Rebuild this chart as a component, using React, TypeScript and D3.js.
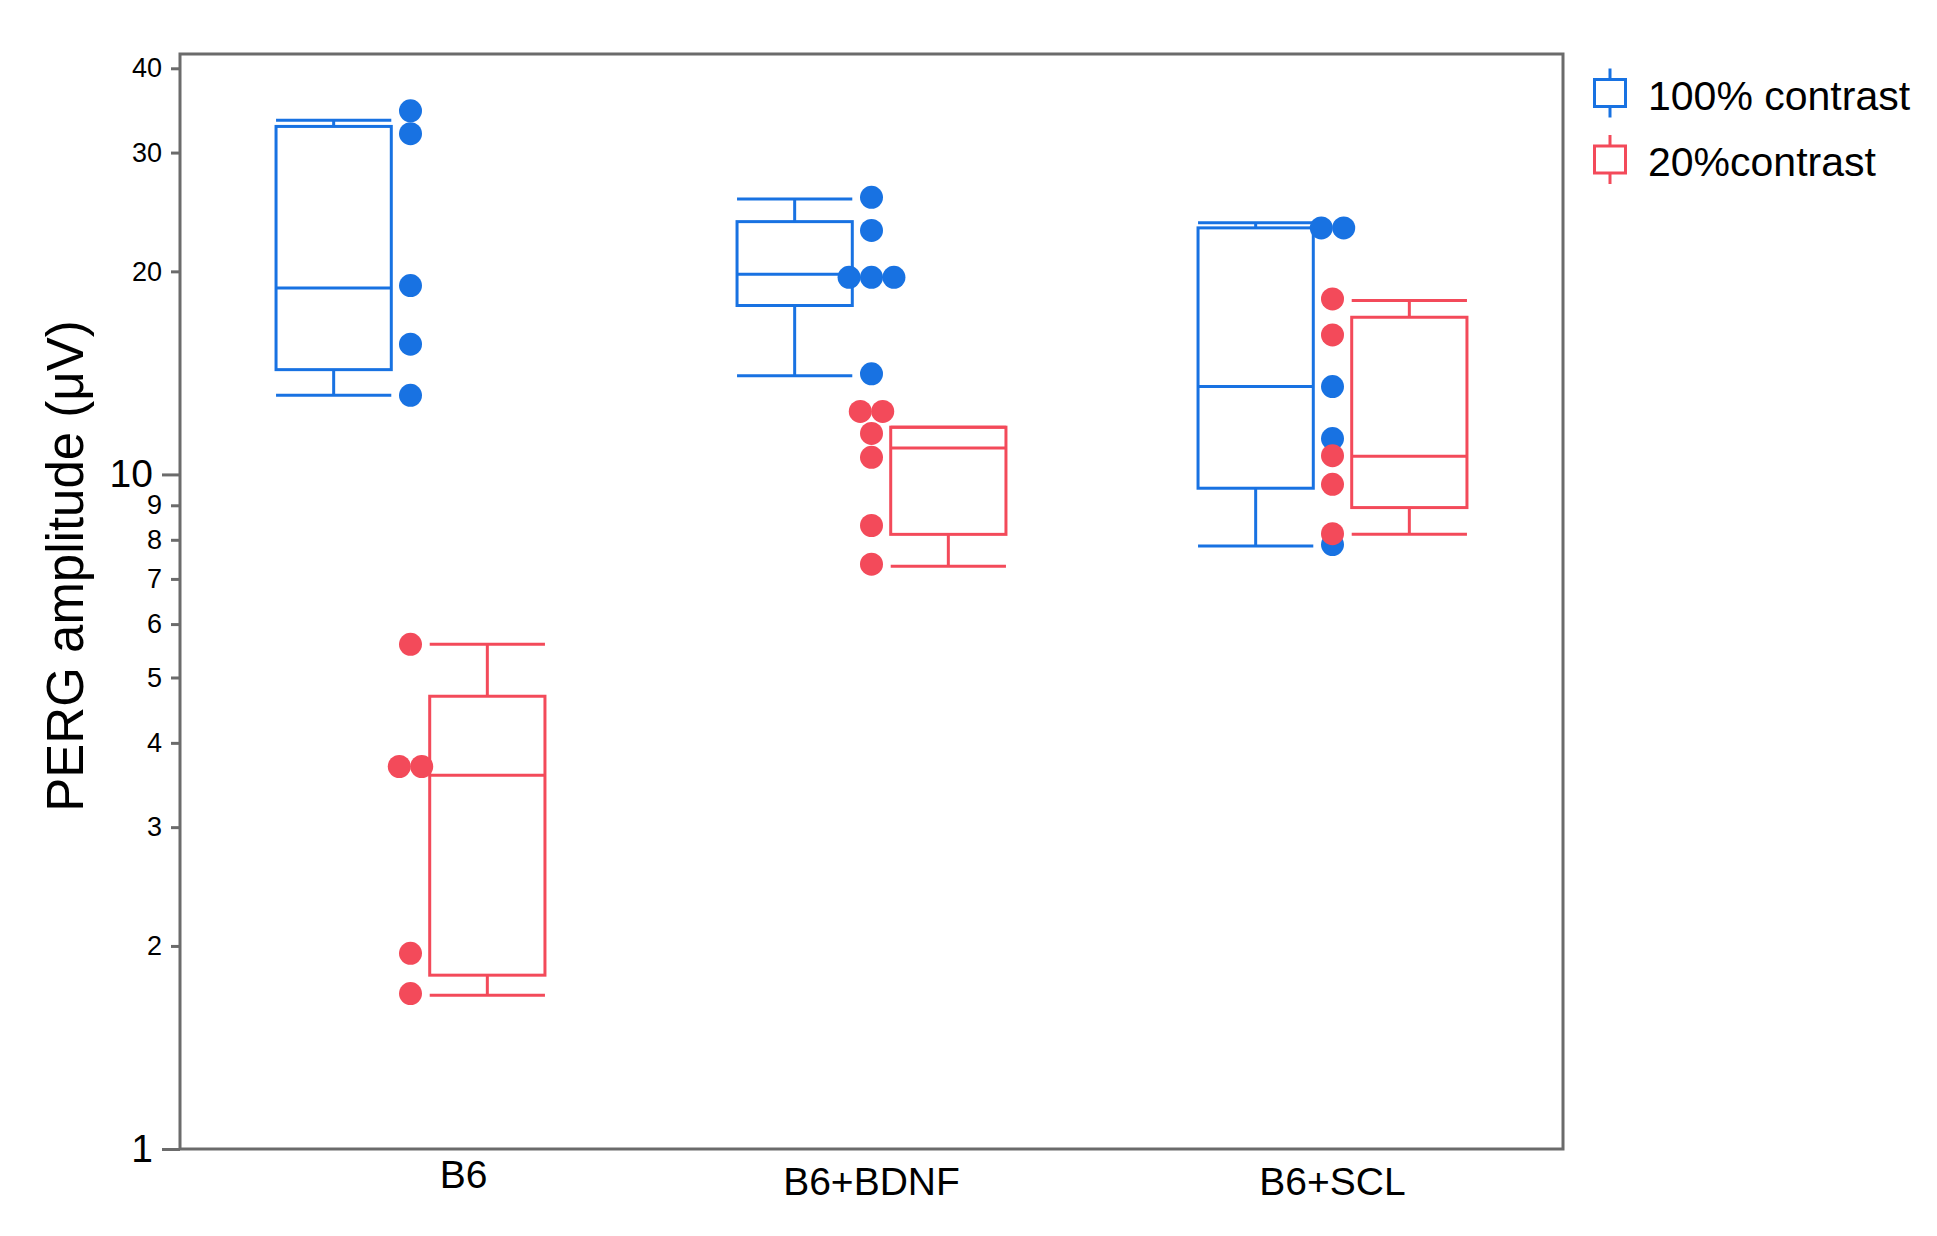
import React, { useRef, useEffect } from 'react';
import * as d3 from 'd3';

const groups = ['B6', 'B6+BDNF', 'B6+SCL'];
const series = ['100% contrast', '20%contrast'];
const colors = ['#1872e2', '#f34a5a'];

// box stats per group: [lower whisker, q1, median, q3, upper whisker]
const box100 = [
  [13.1, 14.3, 18.9, 32.8, 33.5],
  [14.0, 17.8, 19.8, 23.7, 25.6],
  [7.83, 9.54, 13.5, 23.2, 23.6],
];
const box20 = [
  [1.69, 1.81, 3.58, 4.69, 5.6],
  [7.31, 8.15, 10.94, 11.75, 11.75],
  [8.15, 8.93, 10.64, 17.1, 18.1],
];

// individual animals
const pts100 = [
  [34.6, 32.0, 19.05, 15.6, 13.1],
  [25.75, 23.0, 19.6, 19.6, 19.6, 14.1],
  [23.2, 23.2, 13.5, 11.3, 7.87],
];
const pts20 = [
  [5.6, 3.69, 3.69, 1.95, 1.7],
  [12.4, 12.4, 11.5, 10.6, 8.4, 7.36],
  [18.2, 16.1, 10.66, 9.67, 8.17],
];

const yTicks = [1, 2, 3, 4, 5, 6, 7, 8, 9, 10, 20, 30, 40];
const majorTicks = [1, 10];

const W = 1937;
const H = 1236;

const App: React.FC = () => {
  const svgRef = useRef<SVGSVGElement>(null);

  useEffect(() => {
    if (!svgRef.current) return;
    const svg = d3.select(svgRef.current);
    svg.selectAll('*').remove();

    const left = 180, right = 1563, top = 54, bottom = 1149;
    const font = '"Liberation Sans", Arial, Helvetica, sans-serif';
    const axisGrey = '#6b6b6b';

    const x = d3.scaleBand<string>().domain(groups).range([left, right]);
    const x1 = d3.scaleBand<string>().domain(series)
      .range([-x.bandwidth() / 3, x.bandwidth() / 3]);
    const boxW = x1.bandwidth() * 0.75;

    const y = d3.scaleLog().domain([1, 42]).range([bottom, top]);

    // frame
    svg.append('rect')
      .attr('x', left).attr('y', top)
      .attr('width', right - left).attr('height', bottom - top)
      .attr('fill', 'none')
      .attr('stroke', axisGrey)
      .attr('stroke-width', 3);

    // y axis
    const yAxis = d3.axisLeft(y)
      .tickValues(yTicks)
      .tickFormat(d3.format('d'))
      .tickSize(9)
      .tickPadding(9);

    const ag = svg.append('g')
      .attr('transform', `translate(${left},0)`)
      .call(yAxis);
    ag.select('.domain').remove();
    ag.selectAll('.tick line')
      .attr('stroke', axisGrey)
      .attr('stroke-width', 3)
      .attr('x2', (d: any) => (majorTicks.includes(d) ? -18 : -9));
    ag.selectAll('.tick text')
      .attr('x', (d: any) => (majorTicks.includes(d) ? -27 : -18))
      .attr('fill', '#000')
      .style('font-family', font)
      .style('font-size', (d: any) => (majorTicks.includes(d) ? '39px' : '27px'));

    // y title
    svg.append('text')
      .attr('transform', 'translate(83,566) rotate(-90)')
      .attr('text-anchor', 'middle')
      .style('font-family', font)
      .style('font-size', '51px')
      .text('PERG amplitude (μV)');

    // x labels
    const labelNudge: Record<string, [number, number]> = { 'B6': [53, -7] };
    svg.selectAll('.xlab')
      .data(groups)
      .join('text')
      .attr('x', d => x(d)! + x.bandwidth() / 2 + (labelNudge[d]?.[0] ?? 0))
      .attr('y', d => 1195 + (labelNudge[d]?.[1] ?? 0))
      .attr('text-anchor', 'middle')
      .style('font-family', font)
      .style('font-size', '39px')
      .text(d => d);

    // boxes
    const boxes = [box100, box20];
    series.forEach((s, si) => {
      const g = svg.append('g')
        .attr('stroke', colors[si])
        .attr('stroke-width', 3)
        .attr('fill', 'none');
      groups.forEach((grp, gi) => {
        const [lo, q1, med, q3, hi] = boxes[si][gi];
        const cx = x(grp)! + x.bandwidth() / 2 + x1(s)! + x1.bandwidth() / 2;
        const x0 = cx - boxW / 2, xEnd = cx + boxW / 2;
        g.append('line').attr('x1', cx).attr('x2', cx).attr('y1', y(hi)).attr('y2', y(q3));
        g.append('line').attr('x1', cx).attr('x2', cx).attr('y1', y(q1)).attr('y2', y(lo));
        g.append('line').attr('x1', x0).attr('x2', xEnd).attr('y1', y(hi)).attr('y2', y(hi));
        g.append('line').attr('x1', x0).attr('x2', xEnd).attr('y1', y(lo)).attr('y2', y(lo));
        g.append('rect')
          .attr('x', x0).attr('y', y(q3))
          .attr('width', boxW).attr('height', y(q1) - y(q3));
        g.append('line').attr('x1', x0).attr('x2', xEnd).attr('y1', y(med)).attr('y2', y(med));
      });
    });

    // points, identical values placed side by side
    const pts = [pts100, pts20];
    const r = 11.5;
    series.forEach((s, si) => {
      groups.forEach((grp, gi) => {
        const cx = x(grp)! + x.bandwidth() / 2;
        const counts = d3.rollup(pts[si][gi], v => v.length, v => v);
        const seen = new Map<number, number>();
        pts[si][gi].forEach(v => {
          const n = counts.get(v) ?? 1;
          const k = seen.get(v) ?? 0;
          seen.set(v, k + 1);
          svg.append('circle')
            .attr('cx', cx + (k - (n - 1) / 2) * r * 1.95)
            .attr('cy', y(v))
            .attr('r', r)
            .attr('fill', colors[si]);
        });
      });
    });

    // legend
    const lg = svg.append('g').attr('transform', 'translate(1610,93)');
    series.forEach((s, si) => {
      const row = lg.append('g').attr('transform', `translate(0,${si * 66.5})`);
      row.append('line')
        .attr('y1', -24.5).attr('y2', 24.5)
        .attr('stroke', colors[si]).attr('stroke-width', 3);
      row.append('rect')
        .attr('x', -15.5).attr('y', -13.5)
        .attr('width', 31).attr('height', 27)
        .attr('fill', '#fff')
        .attr('stroke', colors[si]).attr('stroke-width', 3);
      row.append('text')
        .attr('x', 38).attr('y', 16.5)
        .style('font-family', font)
        .style('font-size', '41px')
        .text(s);
    });
  }, []);

  return (
    <svg
      ref={svgRef}
      width={W}
      height={H}
      style={{ position: 'absolute', left: 0, top: 0, background: '#fff' }}
    />
  );
};

export default App;
